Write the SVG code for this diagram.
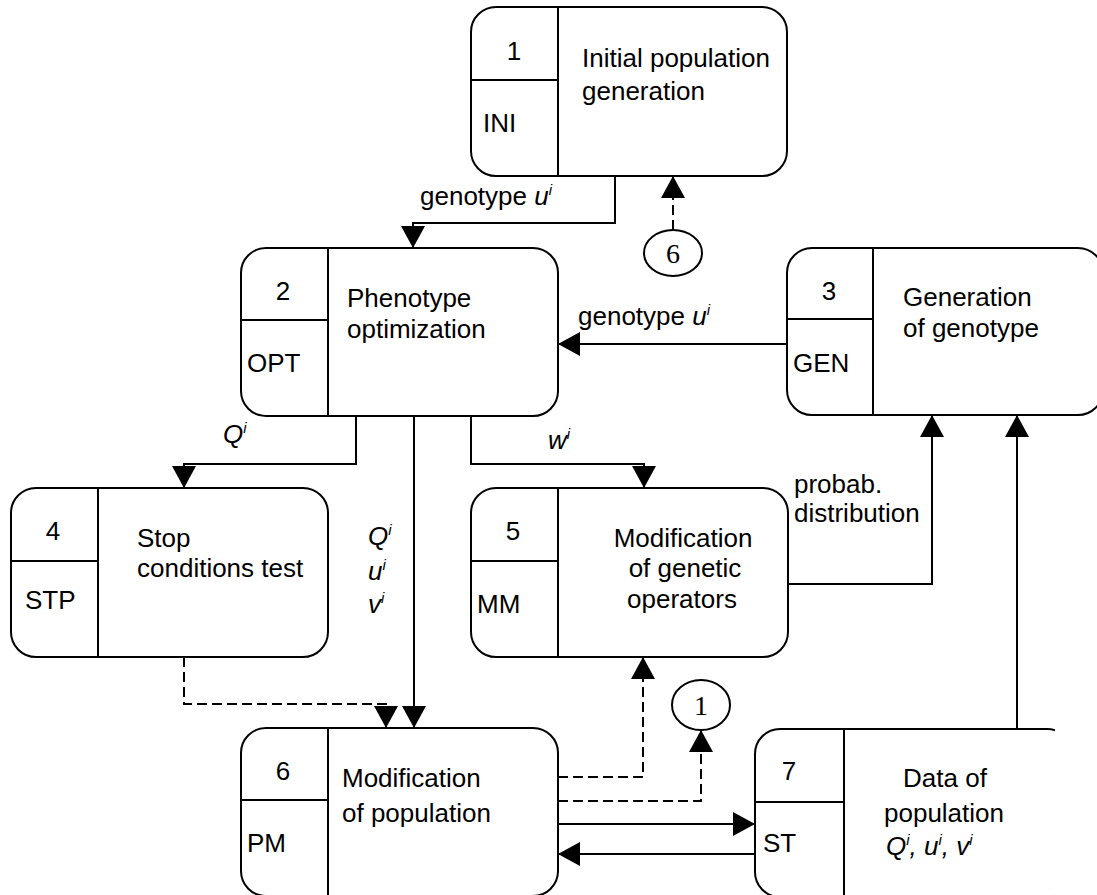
<svg xmlns="http://www.w3.org/2000/svg" width="1097" height="895" viewBox="0 0 1097 895">
<defs>
<style>
.box{fill:#fff;stroke:#000;stroke-width:2}
.div{fill:none;stroke:#000;stroke-width:2}
.t{font-family:"Liberation Sans",Arial,sans-serif;font-size:26px;fill:#000}
.c{text-anchor:middle}
.i{font-style:italic}
.s{font-size:15px;font-style:italic}
.ln{fill:none;stroke:#000;stroke-width:2}
.dash{fill:none;stroke:#000;stroke-width:2;stroke-dasharray:10 5}
.circ{fill:#fff;stroke:#000;stroke-width:2}
.ct{font-family:"Liberation Serif","Times New Roman",serif;font-size:28px;text-anchor:middle;fill:#000}
</style>
<marker id="ah" viewBox="0 0 22 24" refX="22" refY="12" markerWidth="22" markerHeight="24" markerUnits="userSpaceOnUse" orient="auto">
<path d="M0,0 L22,12 L0,24 z" fill="#000"/>
</marker>
<clipPath id="clip7"><rect x="700" y="700" width="355" height="200"/></clipPath>
</defs>
<rect width="1097" height="895" fill="#fff"/>

<g id="connectors">
<path class="ln" d="M615,176 V223 H413 V248" marker-end="url(#ah)"/>
<path class="ln" d="M787,344 H558" marker-end="url(#ah)"/>
<path class="ln" d="M356,416 V464 H184 V488" marker-end="url(#ah)"/>
<path class="ln" d="M414,416 V728" marker-end="url(#ah)"/>
<path class="ln" d="M471,416 V464 H644 V488" marker-end="url(#ah)"/>
<path class="ln" d="M788,584 H932 V415" marker-end="url(#ah)"/>
<path class="ln" d="M1017,729 V415" marker-end="url(#ah)"/>
<path class="dash" d="M184,657 V704 H386 V728" marker-end="url(#ah)"/>
<path class="dash" d="M673,230 V176" marker-end="url(#ah)"/>
<path class="dash" d="M558,777 H643 V657" marker-end="url(#ah)"/>
<path class="dash" d="M558,801 H701 V730" marker-end="url(#ah)"/>
<path class="ln" d="M558,824 H755" marker-end="url(#ah)"/>
<path class="ln" d="M755,854 H558" marker-end="url(#ah)"/>
<text class="t" x="420" y="205">genotype <tspan class="i">u</tspan><tspan class="s" dy="-10">i</tspan></text>
<text class="t" x="578" y="325">genotype <tspan class="i">u</tspan><tspan class="s" dy="-10">i</tspan></text>
<text class="t i" x="223" y="443">Q<tspan class="s" dy="-10">i</tspan></text>
<text class="t i" x="548" y="449">w<tspan class="s" dy="-10">i</tspan></text>
<text class="t i" x="368" y="545">Q<tspan class="s" dy="-10">i</tspan></text>
<text class="t i" x="368" y="580">u<tspan class="s" dy="-10">i</tspan></text>
<text class="t i" x="368" y="613">v<tspan class="s" dy="-10">i</tspan></text>
<text class="t" x="794" y="493">probab.</text>
<text class="t" x="794" y="522">distribution</text>
</g>

<g id="node1">
<rect class="box" x="471" y="7" width="316" height="169" rx="25"/>
<path class="div" d="M558,7 V176 M471,80 H558"/>
<text class="t c" x="514" y="60">1</text>
<text class="t" x="483" y="132">INI</text>
<text class="t" x="582" y="67">Initial population</text>
<text class="t" x="582" y="100">generation</text>
</g>

<g id="node2">
<rect class="box" x="241" y="248" width="317" height="168" rx="25"/>
<path class="div" d="M328,248 V416 M241,320 H328"/>
<text class="t c" x="283" y="300">2</text>
<text class="t" x="247" y="372">OPT</text>
<text class="t" x="347" y="307">Phenotype</text>
<text class="t" x="347" y="338">optimization</text>
</g>

<g id="node3">
<rect class="box" x="787" y="248" width="316" height="167" rx="25"/>
<path class="div" d="M873,248 V415 M787,319 H873"/>
<text class="t c" x="829" y="300">3</text>
<text class="t" x="793" y="372">GEN</text>
<text class="t" x="903" y="306">Generation</text>
<text class="t" x="903" y="337">of genotype</text>
</g>

<g id="node4">
<rect class="box" x="11" y="488" width="317" height="169" rx="25"/>
<path class="div" d="M98,488 V657 M11,561 H98"/>
<text class="t c" x="53" y="540">4</text>
<text class="t" x="25" y="609">STP</text>
<text class="t" x="137" y="547">Stop</text>
<text class="t" x="137" y="577">conditions test</text>
</g>

<g id="node5">
<rect class="box" x="471" y="488" width="317" height="169" rx="25"/>
<path class="div" d="M558,488 V657 M471,561 H558"/>
<text class="t c" x="513" y="540">5</text>
<text class="t" x="477" y="613">MM</text>
<text class="t c" x="683" y="547">Modification</text>
<text class="t c" x="685" y="577">of genetic</text>
<text class="t c" x="682" y="608">operators</text>
</g>

<g id="node6">
<rect class="box" x="241" y="728" width="317" height="168" rx="25"/>
<path class="div" d="M328,728 V896 M241,800 H328"/>
<text class="t c" x="283" y="780">6</text>
<text class="t" x="247" y="852">PM</text>
<text class="t" x="342" y="787">Modification</text>
<text class="t" x="342" y="822">of population</text>
</g>

<g id="node7">
<g clip-path="url(#clip7)">
<rect class="box" x="755" y="729" width="317" height="168" rx="25"/>
</g>
<path class="div" d="M844,729 V896 M755,802 H844"/>
<text class="t c" x="789" y="780">7</text>
<text class="t" x="763" y="852">ST</text>
<text class="t c" x="945" y="787">Data of</text>
<text class="t c" x="944" y="822">population</text>
<text class="t i" x="886" y="855">Q<tspan class="s" dy="-10">i</tspan><tspan dy="10">, u</tspan><tspan class="s" dy="-10">i</tspan><tspan dy="10">, v</tspan><tspan class="s" dy="-10">i</tspan></text>
</g>

<g id="circle6">
<ellipse class="circ" cx="673" cy="253" rx="29" ry="23"/>
<text class="ct" x="673" y="263">6</text>
</g>

<g id="circle1">
<ellipse class="circ" cx="701" cy="705" rx="29" ry="25"/>
<text class="ct" x="701" y="715">1</text>
</g>
</svg>
